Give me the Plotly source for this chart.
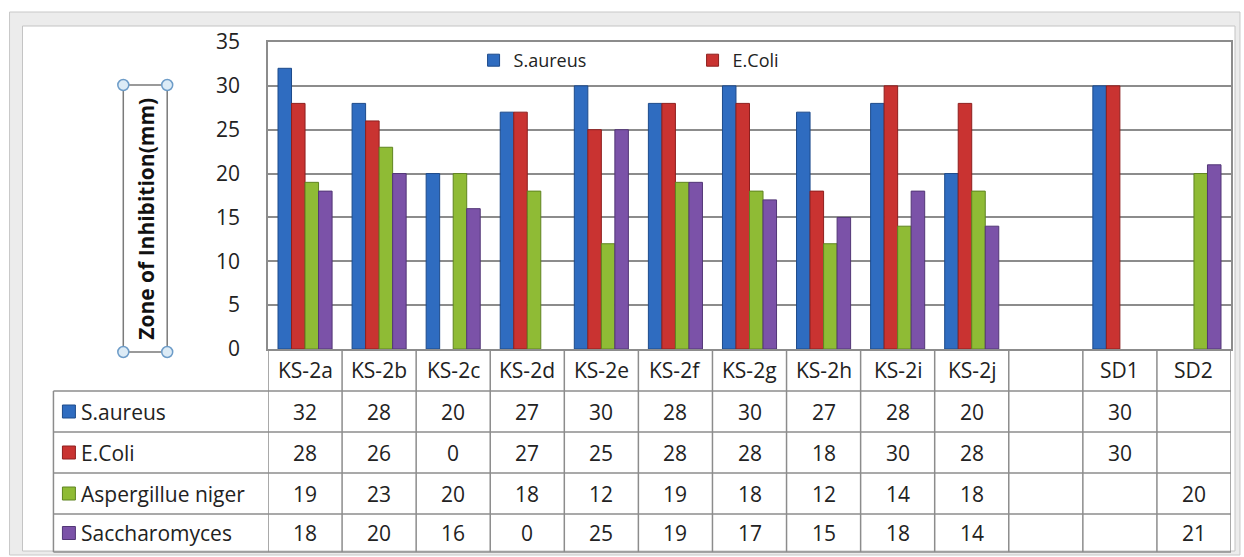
import plotly.graph_objects as go

# Samples tested (blank slot separates the extracts from the standards)
categories = ["KS-2a", "KS-2b", "KS-2c", "KS-2d", "KS-2e", "KS-2f", "KS-2g",
              "KS-2h", "KS-2i", "KS-2j", "", "SD1", "SD2"]

# Zone of inhibition (mm) per test organism
s_aureus = [32, 28, 20, 27, 30, 28, 30, 27, 28, 20, None, 30, None]
e_coli = [28, 26, 0, 27, 25, 28, 28, 18, 30, 28, None, 30, None]
aspergillus_niger = [19, 23, 20, 18, 12, 19, 18, 12, 14, 18, None, None, 20]
saccharomyces = [18, 20, 16, 0, 25, 19, 17, 15, 18, 14, None, None, 21]

series = [
    ("S.aureus", s_aureus, "#2f6cc0", "#1d4a8a", True),
    ("E.Coli", e_coli, "#c93331", "#8e1f1e", True),
    ("Aspergillue niger", aspergillus_niger, "#8fbb35", "#5f8420", False),
    ("Saccharomyces", saccharomyces, "#7b52a8", "#523676", False),
]

W, H = 1244, 557
L, R, T, B = 268, 1233, 42, 349
FONT = "Open Sans"
GRID = "#8c8c8c"
TXT = "#222222"
TABLE_SIZE = 21


def px(x):
    return (x - L) / (R - L)


def py(y):
    return (B - y) / (B - T)


xs = list(range(len(categories)))
fig = go.Figure()
for name, vals, color, edge, legend in series:
    # no outline on zero-height bars so they stay invisible
    edge_w = [0 if (v is None or v == 0) else 1 for v in vals]
    fig.add_trace(go.Bar(
        x=xs, y=vals, name=name, showlegend=legend,
        marker=dict(color=color, line=dict(color=edge, width=edge_w)),
    ))

shapes = []
annotations = []

# outer window frame
shapes.append(dict(type="rect", xref="paper", yref="paper",
                   x0=px(9), x1=px(1242), y0=py(555), y1=py(12),
                   line=dict(color="#c8c8c8", width=1), fillcolor="#ececec",
                   layer="below"))
shapes.append(dict(type="rect", xref="paper", yref="paper",
                   x0=px(22), x1=px(1237), y0=py(551), y1=py(26),
                   line=dict(color="#c4c4c4", width=1), fillcolor="white",
                   layer="below"))

# data table grid
row_edges = [391, 432, 473, 514, 552]
tbl_left = 53
for i in range(len(categories) + 1):
    shapes.append(dict(type="line", xref="x", yref="paper",
                       x0=i - 0.5, x1=i - 0.5, y0=0, y1=py(552),
                       line=dict(color=GRID, width=1.5)))
shapes.append(dict(type="line", xref="paper", yref="paper",
                   x0=px(tbl_left), x1=px(tbl_left), y0=py(391), y1=py(552),
                   line=dict(color=GRID, width=1.5)))
for yy in row_edges:
    shapes.append(dict(type="line", xref="paper", yref="paper",
                       x0=px(tbl_left), x1=1, y0=py(yy), y1=py(yy),
                       line=dict(color=GRID, width=1.5)))


def cell_text(x, y, text, xref="x", xanchor="center"):
    return dict(x=x, y=y, xref=xref, yref="paper", text=text, showarrow=False,
                xanchor=xanchor, yanchor="middle",
                font=dict(family=FONT, size=TABLE_SIZE, color=TXT))


# header row of sample names
for i, c in enumerate(categories):
    if c:
        annotations.append(cell_text(i, py(370), c))

# table body: legend keys, organism names and values
for r, (name, vals, color, edge, _) in enumerate(series):
    top, bot = row_edges[r], row_edges[r + 1]
    yc = (top + bot) / 2
    shapes.append(dict(type="rect", xref="paper", yref="paper",
                       x0=px(62), x1=px(75), y0=py(yc + 6.5), y1=py(yc - 6.5),
                       fillcolor=color, line=dict(color=edge, width=1)))
    annotations.append(cell_text(px(79), py(yc), name, xref="paper", xanchor="left"))
    for i, v in enumerate(vals):
        if v is not None:
            annotations.append(cell_text(i, py(yc), str(v)))

# y-axis title in its selection box
bx0, bx1, by0, by1 = 123, 167, 85, 352
shapes.append(dict(type="rect", xref="paper", yref="paper",
                   x0=px(bx0), x1=px(bx1), y0=py(by1), y1=py(by0),
                   line=dict(color="#7a7a7a", width=1.5)))
for cx in (bx0, bx1):
    for cy in (by0, by1):
        shapes.append(dict(type="circle", xref="paper", yref="paper",
                           x0=px(cx - 5.5), x1=px(cx + 5.5),
                           y0=py(cy + 5.5), y1=py(cy - 5.5),
                           fillcolor="#dcebf6", line=dict(color="#6d9cc8", width=1.5)))
annotations.append(dict(x=px(145), y=py((by0 + by1) / 2), xref="paper", yref="paper",
                        text="<b>Zone of Inhibition(mm)</b>", textangle=-90,
                        showarrow=False, xanchor="center", yanchor="middle",
                        font=dict(family=FONT, size=21, color="#111")))

fig.update_layout(
    width=W, height=H,
    margin=dict(l=L, r=W - R, t=T, b=H - B),
    paper_bgcolor="white", plot_bgcolor="white",
    barmode="group", bargap=0.27, bargroupgap=0,
    font=dict(family=FONT, size=18, color=TXT),
    showlegend=True,
    legend=dict(orientation="h", x=px(474), y=1.0, xanchor="left", yanchor="top",
                bgcolor="rgba(0,0,0,0)", entrywidth=174, entrywidthmode="pixels",
                font=dict(family=FONT, size=18, color=TXT), itemclick=False),
    xaxis=dict(range=[-0.5, len(categories) - 0.5], showticklabels=False,
               showgrid=False, zeroline=False, showline=True, linecolor=GRID,
               linewidth=1.5, mirror=True, ticks=""),
    yaxis=dict(range=[0, 35], dtick=5, showgrid=True, gridcolor=GRID, gridwidth=1.5,
               zeroline=False, showline=True, linecolor=GRID, linewidth=1.5,
               mirror=True, ticks="", ticklabelstandoff=22,
               tickfont=dict(family=FONT, size=21, color=TXT)),
    shapes=shapes, annotations=annotations,
)

fig.write_html("out.html")
